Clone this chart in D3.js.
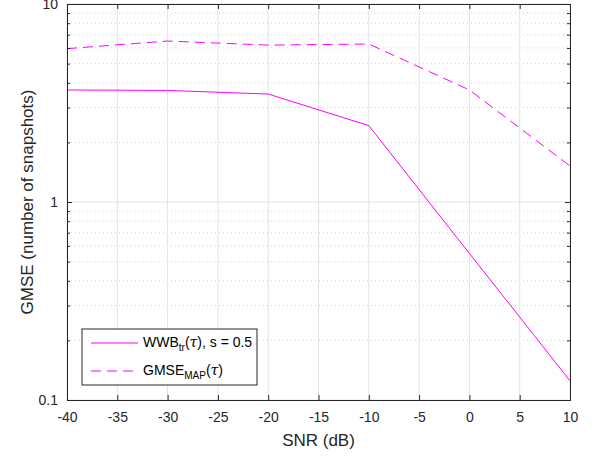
<!DOCTYPE html>
<html>
<head>
<meta charset="utf-8">
<script src="https://cdn.jsdelivr.net/npm/d3@7"></script>
<style>
  body { margin: 0; background: #fff; }
  svg { font-family: "Liberation Sans", Arial, sans-serif; }
</style>
</head>
<body>
<svg id="chart" width="594" height="456"></svg>
<script>
const snr = [-40, -30, -20, -10, 0, 10]
const wwb = [3.68, 3.66, 3.51, 2.43, 0.55, 0.125]
const gmse = [5.95, 6.5, 6.2, 6.28, 3.68, 1.52]
const xTicks = [-40, -35, -30, -25, -20, -15, -10, -5, 0, 5, 10]
const yTicks = [0.1, 1, 10]

const dimensions = {
  width: 594,
  height: 456,
  margin: { top: 4, right: 24, bottom: 56, left: 67 },
}

const svg = d3.select("#chart")

const xScale = d3.scaleLinear()
  .domain([-40, 10])
  .range([dimensions.margin.left, dimensions.width - dimensions.margin.right])

const yScale = d3.scaleLog()
  .domain([0.1, 10])
  .range([dimensions.height - dimensions.margin.bottom, dimensions.margin.top])

const x0 = xScale.range()[0], x1 = xScale.range()[1]
const y0 = yScale.range()[0], y1 = yScale.range()[1]

// minor log values
const minors = []
for (const dec of [0.1, 1]) {
  for (let k = 2; k <= 9; k++) minors.push(dec * k)
}

// grid
const grid = svg.append("g")
grid.selectAll("line.minor")
  .data(minors)
  .enter().append("line")
  .attr("x1", x0).attr("x2", x1)
  .attr("y1", d => yScale(d)).attr("y2", d => yScale(d))
  .attr("stroke", "#c8c8c8")
  .attr("stroke-width", 0.8)
  .attr("stroke-dasharray", "1,3")

grid.selectAll("line.vx")
  .data(xTicks)
  .enter().append("line")
  .attr("x1", d => xScale(d)).attr("x2", d => xScale(d))
  .attr("y1", y0).attr("y2", y1)
  .attr("stroke", "#e3e3e3")
  .attr("stroke-width", 1)

grid.selectAll("line.hy")
  .data(yTicks)
  .enter().append("line")
  .attr("x1", x0).attr("x2", x1)
  .attr("y1", d => yScale(d)).attr("y2", d => yScale(d))
  .attr("stroke", "#e3e3e3")
  .attr("stroke-width", 1)

// lines
const line = d3.line()
  .x((d, i) => xScale(snr[i]))
  .y(d => yScale(d))

svg.append("path")
  .datum(wwb)
  .attr("d", line)
  .attr("fill", "none")
  .attr("stroke", "#ff00ff")
  .attr("stroke-width", 1)

svg.append("path")
  .datum(gmse)
  .attr("d", line)
  .attr("fill", "none")
  .attr("stroke", "#ff00ff")
  .attr("stroke-width", 1)
  .attr("stroke-dasharray", "10,6")

// axes
const xAxis = d3.axisBottom(xScale).tickValues(xTicks).tickSize(-5).tickPadding(12)
  .tickFormat(d => String(d))
const xAxisGroup = svg.append("g")
  .attr("transform", `translate(0,${y0})`)
  .call(xAxis)
xAxisGroup.selectAll("text").attr("font-size", "14px").attr("fill", "#262626")

svg.append("g")
  .attr("transform", `translate(0,${y1})`)
  .call(d3.axisTop(xScale).tickValues(xTicks).tickSize(-5).tickFormat(""))

const yAxis = d3.axisLeft(yScale).tickValues(yTicks).tickSize(-5).tickPadding(9)
  .tickFormat(d => String(d))
const yAxisGroup = svg.append("g")
  .attr("transform", `translate(${x0},0)`)
  .call(yAxis)
yAxisGroup.selectAll("text").attr("font-size", "14px").attr("fill", "#262626")

svg.append("g")
  .attr("transform", `translate(${x0},0)`)
  .call(d3.axisLeft(yScale).tickValues(minors).tickSize(-3).tickFormat(""))

svg.append("g")
  .attr("transform", `translate(${x1},0)`)
  .call(d3.axisRight(yScale).tickValues(yTicks).tickSize(-5).tickFormat(""))
svg.append("g")
  .attr("transform", `translate(${x1},0)`)
  .call(d3.axisRight(yScale).tickValues(minors).tickSize(-3).tickFormat(""))

svg.selectAll(".domain").attr("stroke", "#262626")
svg.selectAll(".tick line").attr("stroke", "#262626")

// labels
svg.append("text")
  .text("SNR (dB)")
  .attr("x", (x0 + x1) / 2)
  .attr("y", 446)
  .attr("text-anchor", "middle")
  .attr("font-size", "17px")
  .attr("fill", "#262626")

svg.append("text")
  .text("GMSE (number of snapshots)")
  .attr("x", -(y0 + y1) / 2)
  .attr("y", 33)
  .attr("text-anchor", "middle")
  .attr("font-size", "17px")
  .attr("fill", "#262626")
  .attr("transform", "rotate(-90)")

// legend
const legend = svg.append("g")
legend.append("rect")
  .attr("x", 82).attr("y", 329)
  .attr("width", 175).attr("height", 56)
  .attr("fill", "#fff")
  .attr("stroke", "#262626")
  .attr("stroke-width", 1)

const legendRows = [
  { y: 343, dash: null },
  { y: 371, dash: "10,6" },
]
legend.selectAll("line.lg")
  .data(legendRows)
  .enter().append("line")
  .attr("x1", 91).attr("x2", 138)
  .attr("y1", d => d.y).attr("y2", d => d.y)
  .attr("stroke", "#ff00ff")
  .attr("stroke-width", 1)
  .attr("stroke-dasharray", d => d.dash)

const t1 = legend.append("text")
  .attr("x", 143).attr("y", 347)
  .attr("font-size", "14px").attr("fill", "#000")
t1.append("tspan").text("WWB")
t1.append("tspan").text("tr").attr("font-size", "10px").attr("dy", 4)
t1.append("tspan").text("(").attr("dy", -4)
t1.append("tspan").text("τ").attr("font-family", "DejaVu Serif").attr("font-style", "italic")
t1.append("tspan").text("), s = 0.5")

const t2 = legend.append("text")
  .attr("x", 143).attr("y", 375)
  .attr("font-size", "14px").attr("fill", "#000")
t2.append("tspan").text("GMSE")
t2.append("tspan").text("MAP").attr("font-size", "10px").attr("dy", 4)
t2.append("tspan").text("(").attr("dy", -4)
t2.append("tspan").text("τ").attr("font-family", "DejaVu Serif").attr("font-style", "italic")
t2.append("tspan").text(")")
</script>
</body>
</html>
